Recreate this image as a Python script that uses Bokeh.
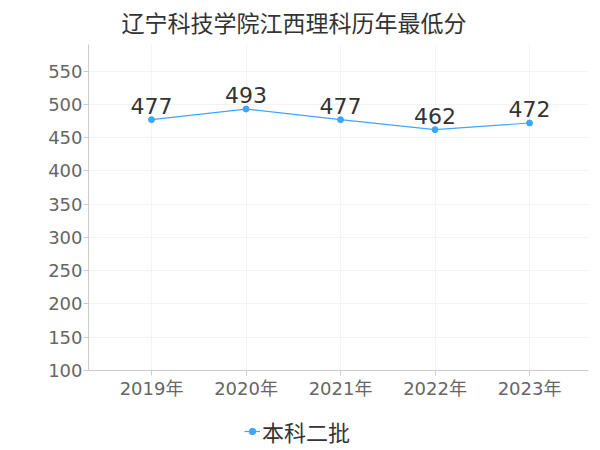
from bokeh.plotting import figure
from bokeh.layouts import column
from bokeh.models import ColumnDataSource, LabelSet, Legend, LegendItem, Range1d, FixedTicker, Title
from bokeh.core.properties import value
from bokeh.embed import file_html
from bokeh.resources import INLINE

years = ["2019年", "2020年", "2021年", "2022年", "2023年"]
scores = [477, 493, 477, 462, 472]
series_name = "本科二批"
title_text = "辽宁科技学院江西理科历年最低分"
y_ticks = [100, 150, 200, 250, 300, 350, 400, 450, 500, 550]

FONT = "DejaVu Sans, Noto Sans CJK SC"
COLOR = "#3fa6ff"

idx = list(range(len(years)))
src = ColumnDataSource(dict(x=idx, y=scores, lab=[str(s) for s in scores]))

p = figure(width=600, height=410, output_backend="svg", toolbar_location=None,
           x_range=Range1d(-0.667, len(years) - 1 + 0.624), y_range=Range1d(100, 590),
           min_border_left=88, min_border_right=12, min_border_top=44, min_border_bottom=40)
p.outline_line_color = None

p.title = Title(text=title_text, text_font=FONT, text_font_size="23px", text_color="#333333",
                text_font_style="normal", offset=33, standoff=12, vertical_align="top")

r_line = p.line("x", "y", source=src, color=COLOR, line_width=1.2)
r_pt = p.scatter("x", "y", source=src, color=COLOR, size=6)

labels = LabelSet(x="x", y="y", text="lab", source=src, y_offset=6, text_align="center",
                  text_baseline="bottom", text_font_size="22px", text_color="#333333",
                  text_font=value(FONT))
p.add_layout(labels)

p.xaxis.ticker = FixedTicker(ticks=idx)
p.xaxis.major_label_overrides = {i: y for i, y in enumerate(years)}
p.yaxis.ticker = FixedTicker(ticks=y_ticks)
for ax in (p.xaxis, p.yaxis):
    ax.major_label_text_font = FONT
    ax.major_label_text_font_size = "18px"
    ax.major_label_text_color = "#666666"
    ax.axis_line_color = "#cccccc"
    ax.major_tick_line_color = "#cccccc"
    ax.major_tick_in = 0
    ax.major_tick_out = 5
    ax.minor_tick_line_color = None
p.xaxis.major_label_standoff = 2
p.yaxis.major_label_standoff = 1

p.xgrid.ticker = FixedTicker(ticks=idx)
p.grid.grid_line_color = "#f3f3f3"

# legend strip (its frame is aligned with the main frame by the column layout)
q = figure(width=600, height=40, output_backend="svg", toolbar_location=None,
           x_range=Range1d(0, 1), y_range=Range1d(0, 1),
           min_border_left=0, min_border_right=0, min_border_top=0, min_border_bottom=0)
q.axis.visible = False
q.grid.visible = False
q.outline_line_color = None
offscreen = ColumnDataSource(dict(x=[-10, -11], y=[-10, -11]))
l_line = q.line("x", "y", source=offscreen, color=COLOR, line_width=1.2)
l_pt = q.scatter("x", "y", source=offscreen, color=COLOR, size=6)
legend = Legend(items=[LegendItem(label=series_name, renderers=[l_line, l_pt])],
                orientation="horizontal", location=(156, 3),
                label_text_font=FONT, label_text_font_size="22px", label_text_color="#333333",
                border_line_color=None, background_fill_alpha=0, glyph_width=16,
                label_standoff=2, padding=2, margin=0)
q.add_layout(legend)

layout = column(p, q, spacing=0)
open("out.html", "w").write(file_html(layout, INLINE))
